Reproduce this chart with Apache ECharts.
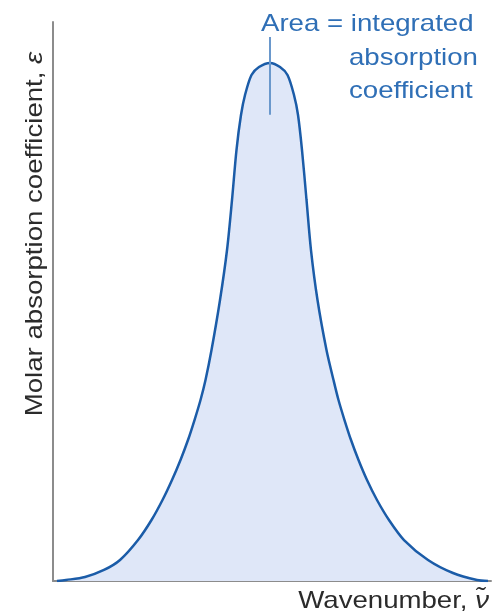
<!DOCTYPE html>
<html>
<head>
<meta charset="utf-8">
<script src="https://cdn.jsdelivr.net/npm/echarts@6/dist/echarts.min.js"></script>
<style>
html,body{margin:0;padding:0;background:#fff;}
#c{width:493px;height:615px;}
</style>
</head>
<body>
<div id="c"></div>
<script>
// Wavenumber positions (arbitrary units, 0-100 across the axis)
var wavenumber = [0.91, 2.97, 7.31, 11.64, 15.30, 19.41, 22.49, 25.00, 27.17, 29.11, 30.82, 32.31, 33.68, 34.82, 36.19, 38.13,
                  39.73, 40.87, 41.89, 42.92, 43.84, 45.32, 47.03, 49.54,
                  51.83, 53.54, 55.02, 55.94, 56.85, 57.88, 58.90, 60.39, 62.44, 64.04, 65.18, 66.55, 68.04, 69.75,
                  71.69, 73.97, 76.71, 80.14, 85.62, 91.32, 96.80, 99.32];
// Molar absorption coefficient (arbitrary units, 0-100)
var absorption = [0, 0.18, 0.72, 1.97, 3.76, 7.33, 10.91, 14.49, 18.07, 21.65, 25.22, 28.80, 32.38, 35.96, 41.32, 50.27,
                  59.21, 68.16, 77.10, 83.36, 86.94, 90.52, 91.95, 92.67,
                  91.95, 90.52, 86.94, 83.36, 77.10, 68.16, 59.21, 50.27, 41.32, 35.96, 32.38, 28.80, 25.22, 21.65,
                  18.07, 14.49, 10.91, 7.33, 3.76, 1.43, 0.18, 0];
// Annotation marker line at the peak
var markerX = 49.5;
var markerY = [83.4, 97.3];
var yLabel = 'Molar absorption coefficient, ';
var yLabelSymbol = 'ε';
var xLabel = 'Wavenumber, ';
var xLabelSymbol = 'ν̃';
var noteLines = ['Area = integrated', 'absorption', 'coefficient'];

var data = wavenumber.map(function (w, i) { return [w, absorption[i]]; });

var chart = echarts.init(document.getElementById('c'));
var blue = '#1b5ca8';
var noteBlue = '#2f6fb6';
var font = 'Liberation Sans, Arial, Helvetica, sans-serif';
var stretch = 1.15;
chart.setOption({
  animation: false,
  backgroundColor: '#ffffff',
  grid: { left: 53, right: 2, top: 22, bottom: 34 },
  xAxis: {
    type: 'value', min: 0, max: 100,
    axisLine: { show: true, onZero: false, lineStyle: { color: '#8c8c8c', width: 2 } },
    axisTick: { show: false }, axisLabel: { show: false }, splitLine: { show: false }
  },
  yAxis: {
    type: 'value', min: 0, max: 100,
    axisLine: { show: true, lineStyle: { color: '#8c8c8c', width: 2 } },
    axisTick: { show: false }, axisLabel: { show: false }, splitLine: { show: false }
  },
  series: [{
    type: 'line',
    data: data,
    smooth: 0.3,
    symbol: 'none',
    lineStyle: { color: blue, width: 2.5 },
    areaStyle: { color: '#dfe7f8', opacity: 1, origin: 'start' },
    z: 3,
    markLine: {
      silent: true,
      symbol: ['none', 'none'],
      label: { show: false },
      lineStyle: { color: '#6a98cc', width: 2, type: 'solid' },
      data: [[{ coord: [markerX, markerY[0]] }, { coord: [markerX, markerY[1]] }]]
    }
  }],
  graphic: [
    {
      type: 'text', x: 261, y: 12, scaleX: stretch,
      style: { text: noteLines[0], fill: noteBlue, font: '24px ' + font, verticalAlign: 'top' }
    },
    {
      type: 'text', x: 349, y: 46, scaleX: stretch,
      style: { text: noteLines[1], fill: noteBlue, font: '24px ' + font, verticalAlign: 'top' }
    },
    {
      type: 'text', x: 349, y: 79, scaleX: stretch,
      style: { text: noteLines[2], fill: noteBlue, font: '24px ' + font, verticalAlign: 'top' }
    },
    {
      type: 'text', x: 35, y: 234, rotation: Math.PI / 2, scaleX: stretch,
      style: {
        text: '{a|' + yLabel + '}{b|' + yLabelSymbol + '}',
        align: 'center', verticalAlign: 'middle',
        rich: {
          a: { fill: '#2b2b2b', font: '24px ' + font },
          b: { fill: '#2b2b2b', font: 'italic 24px ' + font }
        }
      }
    },
    {
      type: 'text', x: 489, y: 601, scaleX: stretch,
      style: {
        text: '{a|' + xLabel + '}{b|' + xLabelSymbol + '}',
        align: 'right', verticalAlign: 'middle',
        rich: {
          a: { fill: '#2b2b2b', font: '24px ' + font },
          b: { fill: '#2b2b2b', font: 'italic 24px ' + font }
        }
      }
    }
  ]
});
</script>
</body>
</html>
